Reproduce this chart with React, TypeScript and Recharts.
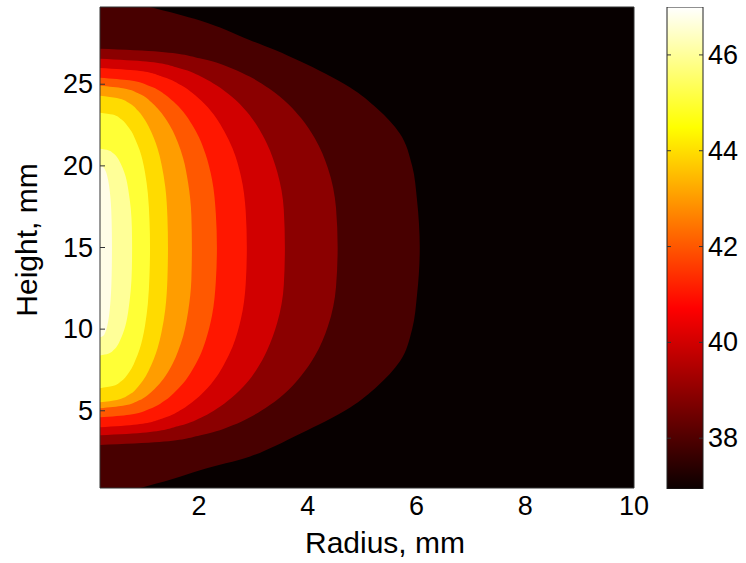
import React from 'react';
import {
  ComposedChart,
  Area,
  XAxis,
  YAxis,
  CartesianGrid,
  ReferenceArea,
  BarChart,
  Bar,
} from 'recharts';

// [height mm, radius mm] outline of each filled contour level, bottom -> top
type Pt = [number, number];

const radiusTicks = [2, 4, 6, 8, 10];
const heightTicks = [5, 10, 15, 20, 25];
const colorTicks = [38, 40, 42, 44, 46];
const colorRange: [number, number] = [36.94, 47.0];

const level38: Pt[] = [
  [0.27, 0.92], [0.8, 1.5], [1.36, 2.02], [2.2, 2.94], [2.85, 3.4], [3.6, 3.86], [4.35, 4.32], [5.2, 4.78],
  [6.5, 5.28], [8.0, 5.69], [10.0, 5.92], [12.1, 6.01], [15, 6.06], [17.9, 6.01], [20.0, 5.92], [22.0, 5.69],
  [23.5, 5.28], [24.8, 4.78], [25.65, 4.32], [26.4, 3.86], [27.1, 3.4], [27.7, 2.94], [28.9, 2.02], [29.73, 1.1],
];
const level39: Pt[] = [
  [2.9, 0.18], [3.08, 1.27], [3.51, 2.05], [4.11, 2.62], [4.59, 2.93], [5.32, 3.29], [6.29, 3.65], [7.14, 3.88],
  [8.35, 4.13], [10.16, 4.37], [12.58, 4.52], [15, 4.55], [17.43, 4.52], [19.87, 4.37], [21.69, 4.13], [22.91, 3.88],
  [23.76, 3.65], [24.74, 3.29], [25.47, 2.93], [25.95, 2.62], [26.56, 2.05], [26.99, 1.27], [27.17, 0.18],
];
const level40: Pt[] = [
  [3.5, 0.18], [3.67, 1.03], [4.08, 1.64], [4.65, 2.08], [5.11, 2.32], [5.8, 2.6], [6.72, 2.88], [7.53, 3.06],
  [8.68, 3.25], [10.4, 3.44], [12.7, 3.56], [15, 3.58], [17.31, 3.56], [19.62, 3.44], [21.36, 3.25], [22.51, 3.06],
  [23.32, 2.88], [24.25, 2.6], [24.94, 2.32], [25.4, 2.08], [25.98, 1.64], [26.39, 1.03], [26.56, 0.18],
];
const level41: Pt[] = [
  [3.99, 0.18], [4.16, 0.86], [4.54, 1.34], [5.09, 1.69], [5.53, 1.88], [6.19, 2.1], [7.07, 2.32], [7.84, 2.46],
  [8.94, 2.62], [10.6, 2.77], [12.8, 2.86], [15, 2.88], [17.2, 2.86], [19.4, 2.77], [21.05, 2.62], [22.15, 2.46],
  [22.92, 2.32], [23.8, 2.1], [24.46, 1.88], [24.9, 1.69], [25.45, 1.34], [25.84, 0.86], [26.0, 0.18],
];
const level42: Pt[] = [
  [4.6, 0.18], [4.76, 0.72], [5.12, 1.1], [5.64, 1.38], [6.06, 1.53], [6.68, 1.71], [7.51, 1.88], [8.24, 2.0],
  [9.28, 2.12], [10.84, 2.24], [12.92, 2.31], [15, 2.33], [17.08, 2.31], [19.16, 2.24], [20.72, 2.12], [21.76, 2.0],
  [22.49, 1.88], [23.32, 1.71], [23.94, 1.53], [24.36, 1.38], [24.88, 1.1], [25.24, 0.72], [25.4, 0.18],
];
const level43: Pt[] = [
  [5.15, 0.18], [5.3, 0.6], [5.64, 0.9], [6.14, 1.12], [6.53, 1.24], [7.12, 1.38], [7.91, 1.52], [8.6, 1.61],
  [9.58, 1.71], [11.06, 1.8], [13.03, 1.86], [15, 1.87], [16.98, 1.86], [18.96, 1.8], [20.45, 1.71], [21.44, 1.61],
  [22.13, 1.52], [22.92, 1.38], [23.51, 1.24], [23.91, 1.12], [24.41, 0.9], [24.75, 0.6], [24.9, 0.18],
];
const level44: Pt[] = [
  [5.52, 0.18], [5.66, 0.49], [5.99, 0.72], [6.47, 0.88], [6.85, 0.97], [7.42, 1.07], [8.17, 1.17], [8.84, 1.24],
  [9.79, 1.31], [11.21, 1.38], [13.1, 1.42], [15, 1.43], [16.86, 1.42], [18.72, 1.38], [20.12, 1.31], [21.05, 1.24],
  [21.7, 1.17], [22.44, 1.07], [23.0, 0.97], [23.37, 0.88], [23.84, 0.72], [24.16, 0.49], [24.3, 0.18],
];
const level45: Pt[] = [
  [6.38, 0.18], [6.51, 0.41], [6.81, 0.57], [7.24, 0.69], [7.59, 0.76], [8.1, 0.83], [8.79, 0.91], [9.4, 0.96],
  [10.26, 1.01], [11.55, 1.06], [13.28, 1.09], [15, 1.1], [16.65, 1.09], [18.3, 1.06], [19.54, 1.01], [20.37, 0.96],
  [20.95, 0.91], [21.61, 0.83], [22.1, 0.76], [22.43, 0.69], [22.85, 0.57], [23.14, 0.41], [23.26, 0.18],
];
const level46: Pt[] = [
  [8.39, 0.18], [8.49, 0.33], [8.72, 0.43], [9.05, 0.51], [9.32, 0.55], [9.71, 0.6], [10.24, 0.65], [10.7, 0.68],
  [11.36, 0.71], [12.36, 0.745], [13.68, 0.766], [15, 0.77], [16.21, 0.766], [17.42, 0.745], [18.33, 0.71], [18.93, 0.68],
  [19.36, 0.65], [19.84, 0.6], [20.2, 0.55], [20.45, 0.51], [20.75, 0.43], [20.96, 0.33], [21.05, 0.18],
];
const level47: Pt[] = [
  [9.5, 0.18], [9.58, 0.235], [9.78, 0.274], [10.05, 0.303], [10.27, 0.318], [10.6, 0.337], [11.04, 0.354], [11.43, 0.366],
  [11.98, 0.379], [12.8, 0.39], [13.9, 0.398], [15, 0.4], [16.0, 0.398], [17.0, 0.39], [17.75, 0.379], [18.25, 0.366],
  [18.6, 0.354], [19.0, 0.337], [19.3, 0.318], [19.5, 0.303], [19.75, 0.274], [19.93, 0.235], [20.0, 0.18],
];

const levels: { level: number; pts: Pt[] }[] = [
  { level: 38, pts: level38 },
  { level: 39, pts: level39 },
  { level: 40, pts: level40 },
  { level: 41, pts: level41 },
  { level: 42, pts: level42 },
  { level: 43, pts: level43 },
  { level: 44, pts: level44 },
  { level: 45, pts: level45 },
  { level: 46, pts: level46 },
  { level: 47, pts: level47 },
];

// hot colormap
const levelColor: Record<number, string> = {
  38: '#480000',
  39: '#8b0000',
  40: '#d10000',
  41: '#ff1700',
  42: '#ff5800',
  43: '#ff9d00',
  44: '#ffdb00',
  45: '#ffff36',
  46: '#ffff98',
  47: '#fffde6',
};

const FONT = '"Liberation Sans", Arial, Helvetica, sans-serif';
const colorbarData = [{ name: 'c', range: colorRange }];

const HeightTick = (props: any) => {
  const { x, y, payload } = props;
  return (
    <g>
      <line x1={x + 7} x2={x + 12} y1={y} y2={y} stroke="#333" />
      <text x={x} y={y} textAnchor="end" dominantBaseline="central" fontSize={27} fill="#000">
        {payload.value}
      </text>
    </g>
  );
};

const ColorTick = (props: any) => {
  const { x, y, payload } = props;
  return (
    <g>
      <line x1={x - 5} x2={x - 9} y1={y} y2={y} stroke="#333" />
      <line x1={x - 41} x2={x - 37} y1={y} y2={y} stroke="#333" />
      <text x={x} y={y} textAnchor="start" dominantBaseline="central" fontSize={27} fill="#000">
        {payload.value}
      </text>
    </g>
  );
};

export default function App() {
  return (
    <div style={{ position: 'absolute', left: 0, top: 0, width: 746, height: 563, fontFamily: FONT, background: '#fff' }}>
      <div style={{ position: 'absolute', left: 0, top: 0 }}>
        <ComposedChart width={660} height={563} layout="vertical" margin={{ top: 7, right: 26, bottom: 45, left: 40 }}>
          <CartesianGrid horizontal={false} vertical={false} fill="#070000" />
          <XAxis
            type="number"
            domain={[0.18, 10]}
            ticks={radiusTicks}
            allowDataOverflow
            height={30}
            axisLine={false}
            tickLine={false}
            tickSize={0}
            tickMargin={8}
            tick={{ fontSize: 27, fill: '#000' }}
            label={{
              content: () => (
                <text x={385} y={553} textAnchor="middle" fontSize={30} fill="#000">
                  Radius, mm
                </text>
              ),
            }}
          />
          <YAxis
            type="number"
            dataKey="h"
            domain={[0.27, 29.73]}
            ticks={heightTicks}
            reversed
            allowDataOverflow
            width={60}
            axisLine={false}
            tickLine={false}
            tickSize={0}
            tickMargin={7}
            tick={<HeightTick />}
            label={{
              content: () => (
                <text x={37} y={240} transform="rotate(-90 37 240)" textAnchor="middle" fontSize={30} fill="#000">
                  Height, mm
                </text>
              ),
            }}
          />
          {levels.map((l) => (
            <Area
              key={l.level}
              data={l.pts.map(([h, r]) => ({ h, r }))}
              dataKey="r"
              type="monotone"
              fill={levelColor[l.level]}
              fillOpacity={1}
              stroke="none"
              isAnimationActive={false}
            />
          ))}
          <ReferenceArea x1={0.18} x2={10} y1={0.27} y2={29.73} fill="none" stroke="#333" strokeWidth={1} />
        </ComposedChart>
      </div>
      <div style={{ position: 'absolute', left: 640, top: 0 }}>
        <BarChart width={106} height={563} data={colorbarData} margin={{ top: 7, right: 0, bottom: 74, left: 27 }} barCategoryGap={0}>
          <defs>
            <linearGradient id="hotMap" x1="0" y1="1" x2="0" y2="0">
              <stop offset="0" stopColor="#0b0000" />
              <stop offset="0.375" stopColor="#ff0000" />
              <stop offset="0.75" stopColor="#ffff00" />
              <stop offset="1" stopColor="#ffffff" />
            </linearGradient>
          </defs>
          <XAxis dataKey="name" hide />
          <YAxis
            orientation="right"
            type="number"
            domain={colorRange}
            ticks={colorTicks}
            allowDataOverflow
            width={43}
            axisLine={false}
            tickLine={false}
            tickSize={0}
            tickMargin={5}
            tick={<ColorTick />}
          />
          <Bar dataKey="range" fill="url(#hotMap)" stroke="#222" strokeWidth={1} isAnimationActive={false} />
        </BarChart>
      </div>
    </div>
  );
}
